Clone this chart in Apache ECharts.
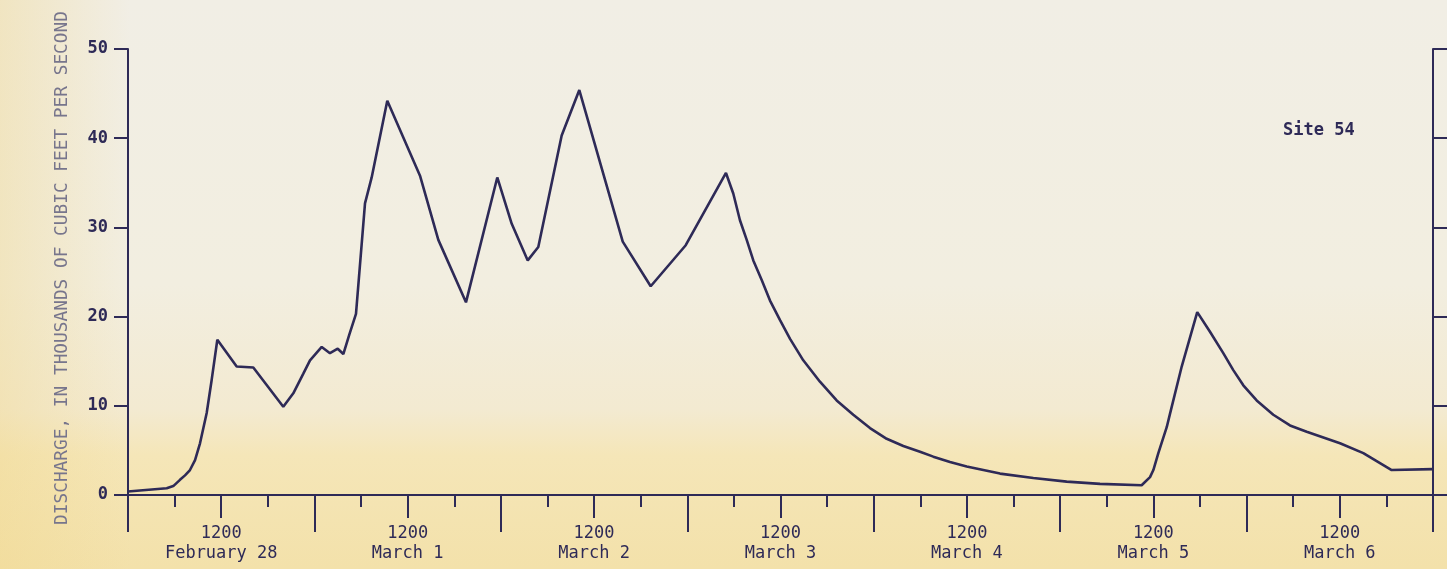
<!DOCTYPE html>
<html>
<head>
<meta charset="utf-8">
<script src="https://cdn.jsdelivr.net/npm/echarts@6/dist/echarts.min.js"></script>
<style>
html,body{margin:0;padding:0;}
body{width:1447px;height:569px;overflow:hidden;
background:linear-gradient(to bottom,#f1eee5 0%,#f2eee0 50%,#f3ead1 72%,#f5e6b8 80%,#f3e1aa 100%);}
#bg2{position:absolute;left:0;top:0;width:1447px;height:569px;
background:linear-gradient(to right,rgba(240,215,140,0.4) 0%,rgba(240,215,140,0.0) 9%);}
#chart{position:absolute;left:0;top:0;width:1447px;height:569px;}
</style>
</head>
<body>
<div id="bg2"></div>
<div id="chart"></div>
<script>
// Hours since 0000 February 28
var hours = [0, 4.98, 5.83, 6.69, 7.34, 7.98, 8.63, 9.27, 10.13, 10.77, 11.50, 13.99, 16.13, 19.99, 21.28, 22.57, 23.43, 24.94, 26.00, 27.00, 27.72, 28.5, 29.35, 30.51, 31.37, 33.38, 37.59, 39.95, 43.51, 47.54, 49.40, 51.46, 52.82, 55.83, 58.10, 63.69, 67.29, 71.80, 76.98, 77.92, 78.78, 79.65, 80.50, 81.58, 82.65, 83.94, 85.23, 86.93, 89.08, 91.23, 93.37, 95.52, 97.67, 99.81, 101.96, 103.67, 105.82, 107.97, 110.11, 112.26, 116.55, 120.84, 125.13, 130.49, 131.57, 132.0, 132.64, 133.72, 134.14, 135.65, 137.65, 139.29, 141.00, 142.29, 143.58, 145.30, 147.44, 149.59, 151.74, 156.03, 159.03, 162.68, 167.96];
// Discharge, thousands of cubic feet per second
var discharge = [0.4, 0.75, 1.0, 1.7, 2.2, 2.8, 3.9, 5.8, 9.2, 12.9, 17.4, 14.4, 14.3, 9.9, 11.4, 13.6, 15.1, 16.6, 15.9, 16.4, 15.8, 18.0, 20.3, 32.7, 35.6, 44.2, 35.8, 28.6, 21.6, 35.6, 30.4, 26.3, 27.8, 40.3, 45.4, 28.4, 23.4, 28.0, 36.1, 33.8, 30.8, 28.6, 26.3, 24.1, 21.8, 19.6, 17.5, 15.1, 12.7, 10.6, 9.0, 7.5, 6.3, 5.5, 4.85, 4.3, 3.7, 3.2, 2.8, 2.4, 1.9, 1.5, 1.25, 1.1, 2.0, 2.8, 4.7, 7.6, 9.1, 14.4, 20.5, 18.3, 15.9, 14.0, 12.3, 10.6, 9.0, 7.8, 7.1, 5.8, 4.7, 2.8, 2.9];
var dayNames = ['February 28', 'March 1', 'March 2', 'March 3', 'March 4', 'March 5', 'March 6'];
var noonLabel = '1200';
var yTicks = [0, 10, 20, 30, 40, 50];
var yTitle = 'DISCHARGE, IN THOUSANDS OF CUBIC FEET PER SECOND';
var siteLabel = 'Site 54';

var ink = '#2e2a57';
var mono = '"DejaVu Sans Mono", "Liberation Mono", monospace';
var chart = echarts.init(document.getElementById('chart'), null, {renderer: 'canvas'});

var pts = hours.map(function (h, i) { return [h, discharge[i]]; });

function xAx(interval, len, showLabel) {
  return {
    type: 'value', gridIndex: 0, position: 'bottom', offset: 0,
    min: 0, max: 168, interval: interval,
    axisLine: {show: true, onZero: false, lineStyle: {color: ink, width: 2}},
    axisTick: {show: true, inside: false, length: len, lineStyle: {color: ink, width: 2}},
    splitLine: {show: false},
    axisLabel: {
      show: showLabel, margin: 29, color: ink, fontFamily: mono, fontSize: 17, lineHeight: 20,
      showMinLabel: true, showMaxLabel: true,
      formatter: function (v) {
        if (v % 24 === 12) { return noonLabel + '\n' + dayNames[Math.floor(v / 24)]; }
        return '';
      }
    }
  };
}

chart.setOption({
  backgroundColor: 'transparent',
  animation: false,
  grid: {left: 128, right: 14, top: 49, bottom: 74, containLabel: false, outerBoundsMode: 'none'},
  xAxis: [xAx(6, 12, false), xAx(12, 23, true), xAx(24, 37, false)],
  yAxis: [
    {
      type: 'value', position: 'left', min: yTicks[0], max: yTicks[yTicks.length - 1], interval: 10,
      axisLine: {show: true, onZero: false, lineStyle: {color: ink, width: 2}},
      axisTick: {show: true, inside: false, length: 14, lineStyle: {color: ink, width: 2}},
      splitLine: {show: false},
      axisLabel: {show: true, margin: 20, color: ink, fontFamily: mono, fontSize: 17, fontWeight: 'bold'}
    },
    {
      type: 'value', position: 'right', min: 0, max: 50, interval: 10,
      axisLine: {show: true, onZero: false, lineStyle: {color: ink, width: 2}},
      axisTick: {show: true, inside: false, length: 14, lineStyle: {color: ink, width: 2}},
      splitLine: {show: false},
      axisLabel: {show: false}
    }
  ],
  graphic: [
    {
      type: 'text', left: 1283, top: 122,
      style: {text: siteLabel, fill: ink, font: 'bold 17px ' + mono}
    },
    {
      type: 'text', x: 62, y: 268, rotation: Math.PI / 2,
      style: {text: yTitle, fill: '#77758c', font: '17.8px ' + mono, align: 'center', verticalAlign: 'middle'}
    }
  ],
  series: [{
    type: 'line', xAxisIndex: 1, yAxisIndex: 0,
    data: pts, showSymbol: false, smooth: false,
    lineStyle: {color: ink, width: 2.6}
  }]
});
</script>
</body>
</html>
